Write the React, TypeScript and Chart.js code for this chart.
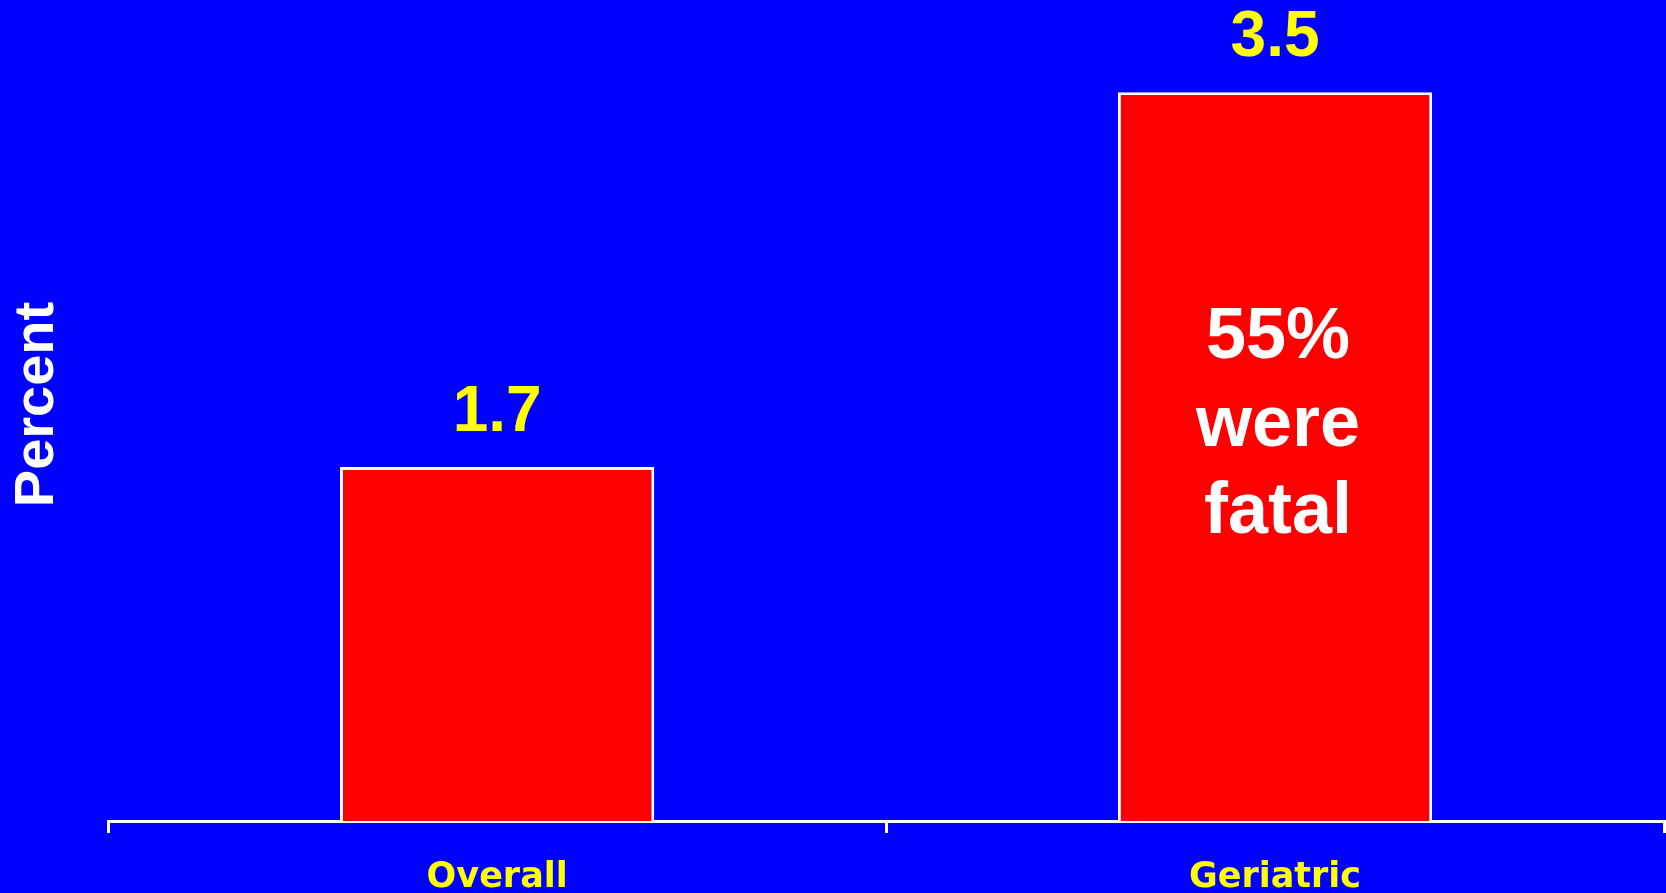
import React, { useEffect, useRef } from "react";
import { Chart, registerables } from "chart.js";

Chart.register(...registerables);

// Categories and values (percent)
const categories = ["Overall", "Geriatric"];
const percentValues = [1.7, 3.5];
const axisMin = 0;
const axisMax = 4;
const axisTitle = "Percent";
// Note written inside the Geriatric bar
const noteLines = ["55%", "were", "fatal"];
const noteIndex = 1;

const BLUE = "#0000ff";
const RED = "#ff0000";
const WHITE = "#ffffff";
const YELLOW = "#ffff00";

// Canvas is a little larger than the visible frame; the frame clips it.
const FRAME_W = 1666;
const FRAME_H = 893;
const CANVAS_H = 935;
const CANVAS_SHIFT = -12;

const valueLabels = {
  id: "valueLabels",
  afterDatasetsDraw(chart: Chart) {
    const ctx = chart.ctx;
    const meta = chart.getDatasetMeta(0);
    ctx.save();
    meta.data.forEach((bar: any, i: number) => {
      const v = percentValues[i];
      ctx.font = 'bold 64px "Liberation Sans", Arial, sans-serif';
      ctx.fillStyle = YELLOW;
      ctx.textAlign = "center";
      ctx.textBaseline = "alphabetic";
      ctx.fillText(v.toFixed(1), bar.x, bar.y - 36);
      if (i === noteIndex) {
        ctx.font = 'bold 72px "Liberation Sans", Arial, sans-serif';
        ctx.fillStyle = WHITE;
        const first = bar.y + 266;
        noteLines.forEach((line, k) => {
          ctx.fillText(line, bar.x + 3, first + k * 87.5);
        });
      }
    });
    ctx.restore();
  },
};

const background = {
  id: "background",
  beforeDraw(chart: Chart) {
    const ctx = chart.ctx;
    ctx.save();
    ctx.fillStyle = BLUE;
    ctx.fillRect(0, 0, chart.width, chart.height);
    ctx.restore();
  },
};

export default function App() {
  const canvasRef = useRef<HTMLCanvasElement | null>(null);

  useEffect(() => {
    document.body.style.margin = "0";
    document.body.style.background = BLUE;
    document.body.style.overflow = "hidden";
    const canvas = canvasRef.current;
    if (!canvas) return;
    const chart = new Chart(canvas, {
      type: "bar",
      data: {
        labels: categories,
        datasets: [
          {
            data: percentValues,
            backgroundColor: RED,
            borderColor: WHITE,
            borderWidth: 3,
            barPercentage: 0.404,
            categoryPercentage: 1,
          },
        ],
      },
      options: {
        responsive: false,
        animation: false,
        devicePixelRatio: 1,
        layout: { padding: { top: 0, bottom: 0, left: 0, right: 2 } },
        plugins: {
          legend: { display: false },
          tooltip: { enabled: false },
        },
        scales: {
          x: {
            type: "category",
            grid: {
              display: true,
              drawOnChartArea: false,
              drawTicks: true,
              tickLength: 12,
              color: WHITE,
              lineWidth: 3,
              offset: true,
            },
            border: { display: true, color: WHITE, width: 3 },
            ticks: {
              color: YELLOW,
              padding: 27.5,
              maxRotation: 0,
              font: {
                family: '"DejaVu Sans", Verdana, sans-serif',
                weight: "bold",
                size: 35,
                lineHeight: 1,
              },
            },
          },
          y: {
            min: axisMin,
            max: axisMax,
            ticks: { display: false },
            grid: { display: false, drawTicks: false },
            border: { display: false },
            title: {
              display: true,
              text: axisTitle,
              color: WHITE,
              padding: { top: 4, bottom: 37 },
              font: {
                family: '"Liberation Sans", Arial, sans-serif',
                weight: "bold",
                size: 56,
                lineHeight: 1.2,
              },
            },
          },
        },
      },
      plugins: [background, valueLabels],
    });
    return () => chart.destroy();
  }, []);

  return (
    <div
      style={{
        width: FRAME_W,
        height: FRAME_H,
        overflow: "hidden",
        position: "relative",
        background: BLUE,
      }}
    >
      <canvas
        ref={canvasRef}
        width={FRAME_W}
        height={CANVAS_H}
        style={{ display: "block", position: "absolute", left: 0, top: CANVAS_SHIFT }}
      />
    </div>
  );
}
